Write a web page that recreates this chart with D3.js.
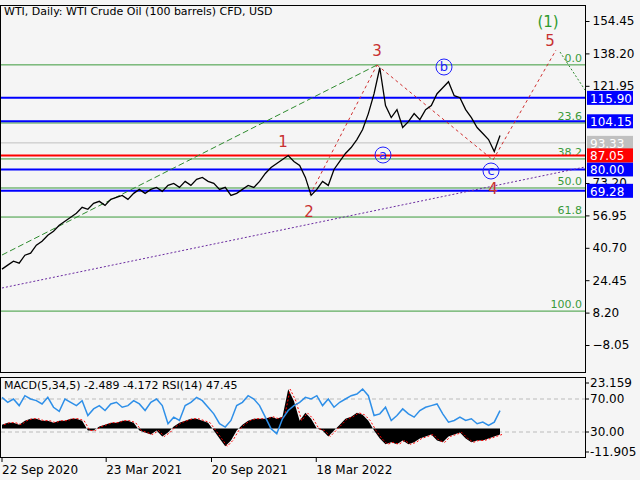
<!DOCTYPE html><html><head><meta charset="utf-8"><script src="https://cdn.jsdelivr.net/npm/d3@7"></script>
<style>body{margin:0;background:#f5f5f5}text{font-family:"DejaVu Sans",sans-serif}</style></head><body><svg id="c" width="640" height="480"></svg>
<script>
const prices = [30,32,34,33,37,38,42,44,47,49,52,54,56,58,61,60,63,64,62,65,66,67,65,68,70,68,70,71,69,72,73,71,74,72,75,76,74,73,70,71,67,68,70,72,71,74,78,81,83,85,87,84,82,76,67,70,74,72,80,84,88,91,95,100,108,118,131,112,106,110,101,104,108,105,110,112,118,121,124,117,116,110,106,101,98,95,89,97];
const rsi = [72,66,70,62,74,70,68,64,72,60,55,70,66,62,68,50,58,62,56,64,66,60,62,68,64,56,66,70,62,40,48,44,62,66,72,68,60,52,40,36,44,62,66,74,70,62,48,34,28,46,56,62,66,72,70,74,62,70,60,66,70,74,76,82,74,50,52,60,44,50,58,52,48,56,60,62,64,52,42,44,48,44,46,40,42,38,42,56];
const macd = [2,3,3,2,4,5,5,4,4,3,4,4,5,5,4,-1,-1,1,2,3,3,4,4,3,-1,-2,-3,-1,-4,-2,1,3,4,5,5,4,3,-1,-5,-9,-6,-1,2,4,5,5,5,6,5,6,20,14,4,8,5,0,-1,-4,-1,2,5,6,8,7,4,-1,-5,-8,-7,-8,-6,-8,-7,-5,-4,-3,-6,-7,-4,-3,-2,-5,-7,-6,-6,-5,-4,-3];
const priceTicks = [154.45,138.20,121.95,73.20,56.95,40.70,24.45,8.20,-8.05];
const fibLevels = [0,23.6,38.2,50,61.8,100];
const fibTop = 132.45, fibBottom = 8.95;
const blueLevels = [115.90,104.15,80.00,69.28];
const redLevel = 87.05, greyLevel = 93.33;
const dateLabels = ["22 Sep 2020","23 Mar 2021","20 Sep 2021","18 Mar 2022"];
const dateIdx = [0,18.2,36.6,54.9];

const svg = d3.select("#c");
const W=585;
const x = d3.scaleLinear().domain([0,prices.length-1]).range([2,500]);
const y = d3.scaleLinear().domain([-8.05,154.45]).range([345,21]);
const yM = d3.scaleLinear().domain([-11.905,23.159]).range([452,383]);
const yR = d3.scaleLinear().domain([30,70]).range([432,399]);

svg.append("rect").attr("x",0.5).attr("y",5.5).attr("width",W).attr("height",367).attr("fill","none").attr("stroke","#000");
svg.append("rect").attr("x",0.5).attr("y",377.5).attr("width",W).attr("height",80).attr("fill","none").attr("stroke","#000");
const main = svg.append("g");
fibLevels.forEach(l=>{const v=fibTop-(fibTop-fibBottom)*l/100;
 main.append("line").attr("x1",1).attr("x2",W).attr("y1",y(v)).attr("y2",y(v)).attr("stroke","#3a9a3a").attr("stroke-width",1);
 main.append("text").attr("x",582).attr("y",y(v)-3).attr("text-anchor","end").attr("font-size",11).attr("fill","#3a9a3a").text(l.toFixed(1));});
main.append("line").attr("x1",1).attr("x2",W).attr("y1",y(greyLevel)).attr("y2",y(greyLevel)).attr("stroke","#c0c0c0");
blueLevels.forEach(v=>main.append("line").attr("x1",1).attr("x2",W).attr("y1",y(v)).attr("y2",y(v)).attr("stroke","#0000ff").attr("stroke-width",2));
main.append("line").attr("x1",1).attr("x2",W).attr("y1",y(redLevel)).attr("y2",y(redLevel)).attr("stroke","#ff0000").attr("stroke-width",2);
const seg=(a,b,c,d,col,dash)=>main.append("line").attr("x1",a).attr("y1",b).attr("x2",c).attr("y2",d).attr("stroke",col).attr("stroke-dasharray",dash);
seg(2,255,377,65,"#2e8b2e","6,3");
seg(2,288,585,167,"#6a2aa0","2,2");
seg(310,195,377,65,"#d03030","3,3");
seg(377,65,493,160,"#d03030","3,3");
seg(493,160,556,50,"#d03030","3,3");
seg(560,52,585,90,"#2e8b2e","2,2");
main.append("path").datum(prices).attr("fill","none").attr("stroke","#000").attr("stroke-width",1.3)
 .attr("d",d3.line().x((d,i)=>x(i)).y(d=>y(d)));
[["1",283,147,"#c83030"],["2",309,217,"#c83030"],["3",377,56,"#c83030"],["4",493,194,"#c83030"],["5",550,46,"#c83030"],["(1)",548,27,"#2e9a2e"]].forEach(t=>
 main.append("text").attr("x",t[1]).attr("y",t[2]).attr("text-anchor","middle").attr("font-size",15).attr("fill",t[3]).text(t[0]));
[["a",383,155],["b",444,67],["c",491,171]].forEach(t=>{main.append("circle").attr("cx",t[1]).attr("cy",t[2]).attr("r",8).attr("fill","none").attr("stroke","#2020ff");
 main.append("text").attr("x",t[1]).attr("y",t[2]+4).attr("text-anchor","middle").attr("font-size",13).attr("fill","#2020ff").text(t[0]);});
const ax=svg.append("g").attr("transform",`translate(${W+0.5},0)`).call(d3.axisRight(y).tickValues(priceTicks).tickFormat(d3.format(".2f")).tickSize(4));
ax.select(".domain").attr("d","M0,5V372");ax.selectAll("text").attr("font-size",12).attr("font-family","DejaVu Sans");
const box=(v,bg,fg)=>{svg.append("rect").attr("x",587).attr("y",y(v)-7).attr("width",46).attr("height",14).attr("fill",bg);
 svg.append("text").attr("x",590).attr("y",y(v)+5).attr("font-size",12).attr("fill",fg).text(v.toFixed(2));};
box(greyLevel,"#c0c0c0","#fff");blueLevels.forEach(v=>box(v,"#0000ff","#fff"));box(redLevel,"#ff0000","#fff");
svg.append("line").attr("x1",1).attr("x2",W).attr("y1",yR(70)).attr("y2",yR(70)).attr("stroke","#bbb").attr("stroke-dasharray","4,3");
svg.append("line").attr("x1",1).attr("x2",W).attr("y1",yR(30)).attr("y2",yR(30)).attr("stroke","#bbb").attr("stroke-dasharray","4,3");
svg.append("path").datum(macd).attr("fill","#000").attr("d",d3.area().x((d,i)=>x(i)).y0(yM(0)).y1(d=>yM(d)));
svg.append("path").datum(macd).attr("fill","none").attr("stroke","#ff0000").attr("stroke-dasharray","2,2").attr("d",d3.line().x((d,i)=>x(i)+2).y(d=>yM(d)));
svg.append("path").datum(rsi).attr("fill","none").attr("stroke","#2e8fe8").attr("stroke-width",1.5).attr("d",d3.line().x((d,i)=>x(i)).y(d=>yR(d)));
[[23.159,yM,"23.159"],[70,yR,"70.00"],[30,yR,"30.00"],[-11.905,yM,"-11.905"]].forEach(([v,s,t])=>{svg.append("line").attr("x1",W).attr("x2",W+4).attr("y1",s(v)).attr("y2",s(v)).attr("stroke","#000");
 svg.append("text").attr("x",590).attr("y",s(v)+4).attr("font-size",12).text(t);});
svg.append("line").attr("x1",W+0.5).attr("x2",W+0.5).attr("y1",377).attr("y2",457).attr("stroke","#000");
svg.append("text").attr("x",4).attr("y",389).attr("font-size",11).text("MACD(5,34,5) -2.489 -4.172 RSI(14) 47.45");
dateIdx.forEach((d,i)=>{svg.append("line").attr("x1",x(d)).attr("x2",x(d)).attr("y1",457).attr("y2",462).attr("stroke","#000");
 svg.append("text").attr("x",x(d)).attr("y",474).attr("font-size",12).text(dateLabels[i]);});
svg.append("text").attr("x",4).attr("y",15).attr("font-size",11).text("WTI, Daily:  WTI Crude Oil (100 barrels) CFD, USD");
</script></body></html>
